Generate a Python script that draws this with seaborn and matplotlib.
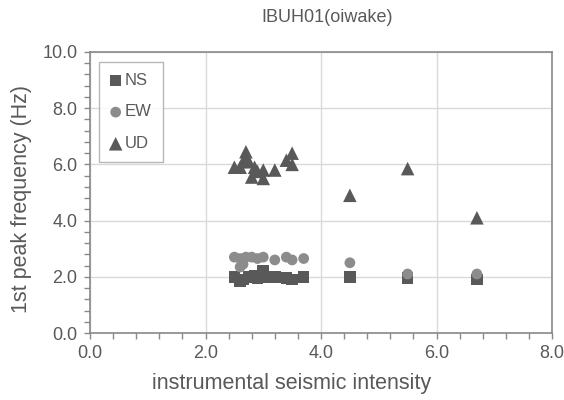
import numpy as np
import pandas as pd
import matplotlib
matplotlib.use("Agg")
import matplotlib.pyplot as plt
import seaborn as sns
from matplotlib.ticker import MultipleLocator

ns_x = [2.5, 2.6, 2.65, 2.75, 2.85, 2.9, 3.0, 3.0, 3.2, 3.4, 3.5, 3.7, 4.5, 5.5, 6.7]
ns_y = [2.0, 1.85, 1.9, 2.0, 2.05, 1.95, 2.2, 2.0, 2.0, 1.95, 1.9, 2.0, 2.0, 1.95, 1.9]
ew_x = [2.5, 2.6, 2.6, 2.65, 2.7, 2.8, 2.9, 3.0, 3.2, 3.4, 3.5, 3.7, 4.5, 5.5, 6.7]
ew_y = [2.7, 2.65, 2.35, 2.45, 2.7, 2.7, 2.65, 2.7, 2.6, 2.7, 2.6, 2.65, 2.5, 2.1, 2.1]
ud_x = [2.5, 2.6, 2.65, 2.7, 2.7, 2.75, 2.8, 2.85, 2.9, 3.0, 3.0, 3.2, 3.4, 3.5, 3.5, 4.5, 5.5, 6.7]
ud_y = [5.9, 5.9, 6.1, 6.45, 6.2, 6.1, 5.55, 5.9, 5.75, 5.8, 5.5, 5.8, 6.15, 6.4, 6.0, 4.9, 5.85, 4.1]

comp_names = ["NS", "EW", "UD"]
x_ticks = [0.0, 2.0, 4.0, 6.0, 8.0]
y_ticks = [0.0, 2.0, 4.0, 6.0, 8.0, 10.0]

df = pd.concat([
    pd.DataFrame({"x": ns_x, "y": ns_y, "comp": "NS"}),
    pd.DataFrame({"x": ew_x, "y": ew_y, "comp": "EW"}),
    pd.DataFrame({"x": ud_x, "y": ud_y, "comp": "UD"}),
], ignore_index=True)

sns.set_style("white")
plt.rcParams["font.family"] = ["Liberation Sans", "DejaVu Sans"]

txt = "#595959"
spine_c = "#898989"
fig = plt.figure(figsize=(5.64, 4.0), dpi=100)
ax = fig.add_axes([90/564, 1 - 333/400, 462/564, 281/400])

palette = {"NS": "#595959", "EW": "#8c8c8c", "UD": "#595959"}
markers = {"NS": "s", "EW": "o", "UD": "^"}
sizes = {"NS": 70, "EW": 60, "UD": 95}
for c in comp_names:
    sub = df[df["comp"] == c]
    sns.scatterplot(data=sub, x="x", y="y", color=palette[c], marker=markers[c],
                    s=sizes[c], edgecolor="none", linewidth=0, ax=ax, label=c, zorder=3)

ax.set_xlim(0, 8)
ax.set_ylim(0, 10)
ax.set_xticks(x_ticks)
ax.set_yticks(y_ticks)
ax.set_xticklabels([f"{v:.1f}" for v in x_ticks])
ax.set_yticklabels([f"{v:.1f}" for v in y_ticks])
ax.xaxis.set_minor_locator(MultipleLocator(0.4))
ax.yaxis.set_minor_locator(MultipleLocator(0.4))
ax.tick_params(which="both", direction="out", length=4, width=1, color=spine_c,
               labelsize=13, labelcolor=txt, bottom=True, left=True)
ax.tick_params(axis="x", pad=5)
ax.tick_params(axis="y", pad=5)
ax.grid(True, which="major", color="#d9d9d9", linewidth=1)
ax.set_axisbelow(True)
for s in ax.spines.values():
    s.set_visible(True)
    s.set_color(spine_c)
    s.set_linewidth(1.2)

ax.set_xlabel("instrumental seismic intensity", fontsize=15.5, color=txt)
ax.set_ylabel("1st peak frequency (Hz)", fontsize=15.5, color=txt)
ax.xaxis.set_label_coords((292 - 90) / 462, -(383 - 333) / 281)
ax.yaxis.set_label_coords(-(90 - 22) / 462, (333 - 199) / 281)
ax.xaxis.label.set_va("center")
ax.yaxis.label.set_va("center")
fig.text(327/564, 1 - 18/400, "IBUH01(oiwake)", ha="center", va="center",
         fontsize=13, color=txt)

leg = ax.legend(loc="upper left", bbox_to_anchor=(9/462, 1 - 10/281), frameon=True,
                fancybox=False, edgecolor="#a6a6a6", fontsize=12, labelspacing=1.0,
                handletextpad=0.2, handlelength=0.7, borderpad=0.65, markerscale=1.0,
                borderaxespad=0)
leg.get_frame().set_linewidth(1)
for t in leg.get_texts():
    t.set_color(txt)

fig.savefig("out.png", dpi=100)
